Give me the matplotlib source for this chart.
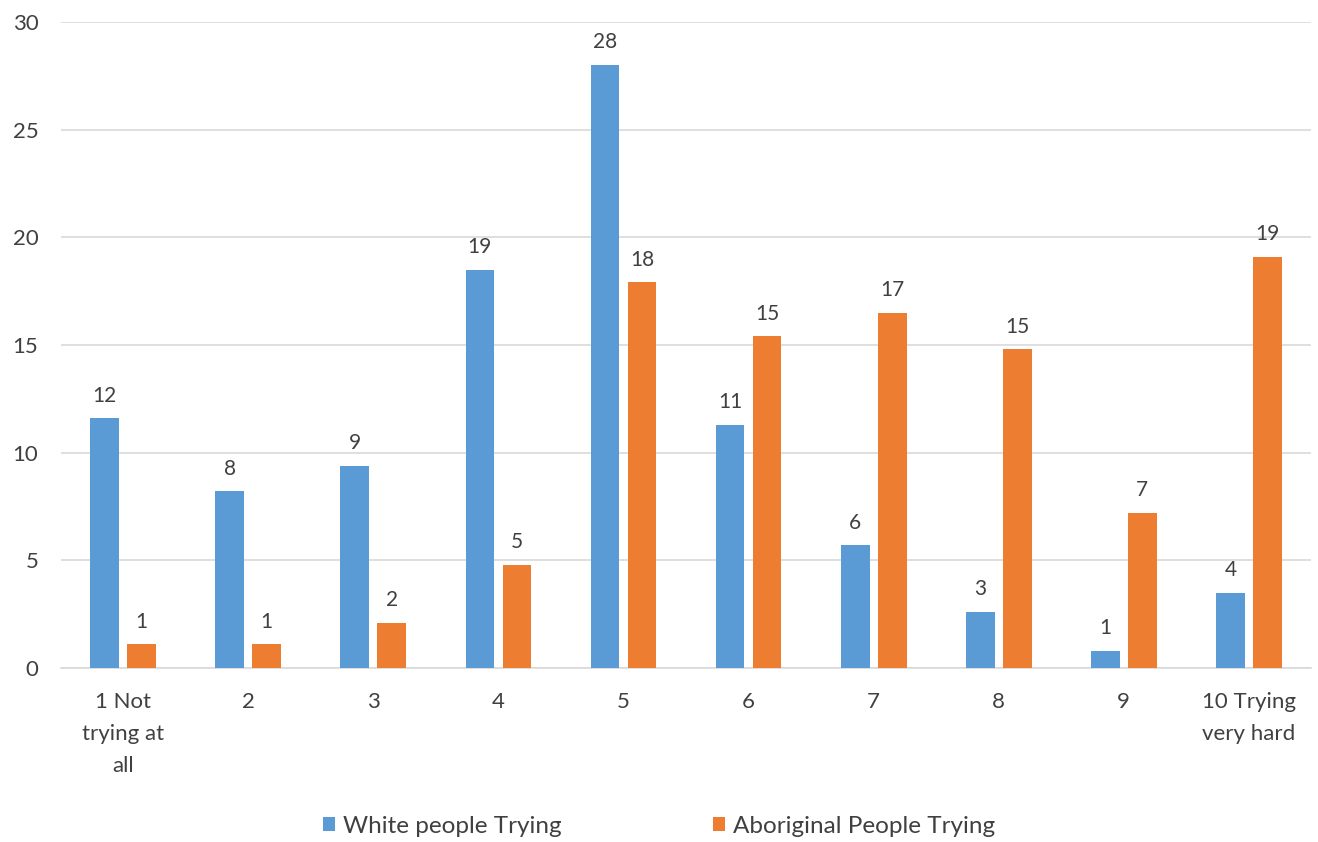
import numpy as np
import matplotlib.pyplot as plt

categories = ["1 Not\ntrying at\nall", "2", "3", "4", "5", "6", "7", "8", "9", "10 Trying\nvery hard"]
white = [11.6, 8.2, 9.4, 18.5, 28.0, 11.3, 5.7, 2.6, 0.8, 3.5]
aboriginal = [1.1, 1.1, 2.1, 4.8, 17.9, 15.4, 16.5, 14.8, 7.2, 19.1]

blue = "#5B9BD5"
orange = "#ED7D31"
text_col = "#404040"

plt.rcParams["font.family"] = ["Lato", "DejaVu Sans"]

fig = plt.figure(figsize=(13.18, 8.42), dpi=100)
ax = fig.add_axes([0.046, 0.2067, 0.949, 0.7673])

x = np.arange(len(categories))
w = 0.23
off = 0.148
b1 = ax.bar(x - off, white, w, color=blue, label="White people Trying", zorder=3)
b2 = ax.bar(x + off, aboriginal, w, color=orange, label="Aboriginal People Trying", zorder=3)

for bars, vals in [(b1, white), (b2, aboriginal)]:
    for r, v in zip(bars, vals):
        ax.annotate(str(int(np.floor(v + 0.5))), (r.get_x() + r.get_width() / 2, v),
                    xytext=(0, 9), textcoords="offset points",
                    ha="center", va="bottom", fontsize=15, color=text_col)

ax.set_xlim(-0.5, len(categories) - 0.5)
ax.set_ylim(0, 30)
ax.set_yticks(range(0, 31, 5))
ax.set_xticks(x)
ax.set_xticklabels(categories, linespacing=1.75)
ax.grid(axis="y", color="#D9D9D9", linewidth=1.2, zorder=0)
for s in ["top", "right", "left"]:
    ax.spines[s].set_visible(False)
ax.spines["bottom"].set_color("#D9D9D9")
ax.spines["bottom"].set_linewidth(1.2)
ax.tick_params(axis="both", length=0, labelsize=16, colors=text_col)
ax.tick_params(axis="y", pad=16)
ax.tick_params(axis="x", pad=17)

fig.legend(loc="center", bbox_to_anchor=(0.5, 0.019), ncol=2, frameon=False,
           fontsize=17.5, labelcolor=text_col, handlelength=0.5, handleheight=0.5,
           handletextpad=0.35, columnspacing=6.2)

fig.savefig("out.png", dpi=100)
